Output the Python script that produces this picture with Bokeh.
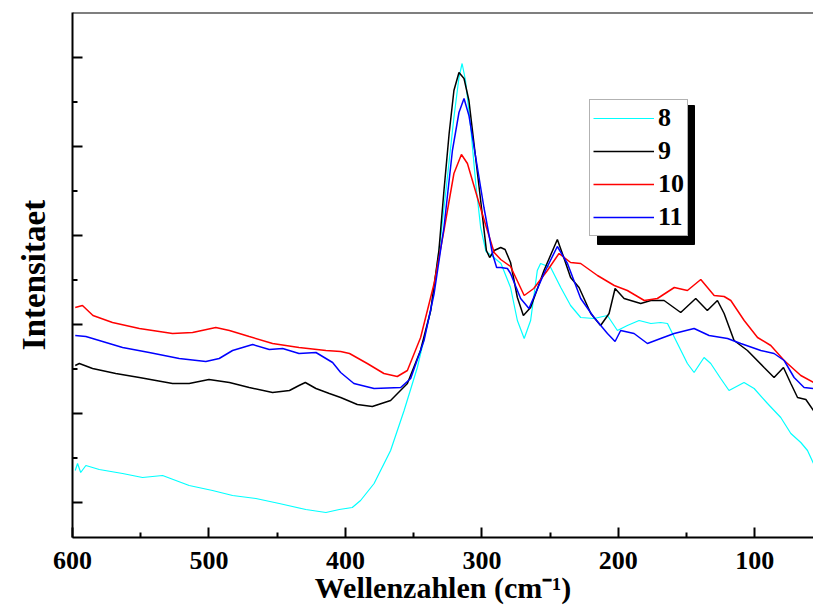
from bokeh.plotting import figure
from bokeh.models import Range1d, FixedTicker, Legend, LegendItem, Span
from bokeh.embed import file_html
from bokeh.resources import INLINE

# Raman spectra of samples 8-11: wavenumber (cm^-1) and intensity (arbitrary units)
wn_8 = [598, 596.3, 594, 590.2, 580.4, 563.3, 548.7, 534, 514.5, 497.4, 482.7, 465.6,
        448.5, 429, 414.3, 404.5, 395, 388.9, 379, 366.9, 357, 347.3, 337.5, 330.2,
        325.3, 320.5, 316.8, 314.5, 312, 308.2, 304.5, 300.9, 297, 293, 286, 279, 274,
        269, 264.3, 259.4, 257, 249.6, 242.2, 235, 227.6, 217.8, 208, 200.7, 193.4,
        184.8, 176.2, 169, 164, 156.7, 149.4, 144.5, 137.2, 132.3, 125, 118.9, 107.9,
        100.5, 90.7, 81, 73.6, 66.3, 61.4, 57]
int_8 = [67, 74, 65, 72, 68, 64, 60, 62, 52, 47, 42, 39,
         34, 28, 25, 28, 30, 37, 54, 87, 127, 170, 227, 300,
         360, 420, 460, 474, 457, 410, 354, 310, 286, 282, 274, 250, 217,
         199, 217, 267, 274, 270, 250, 232, 220, 219, 222, 207, 212,
         217, 214, 215, 214, 194, 174, 165, 180, 174, 159, 147, 155,
         149, 134, 120, 104, 95, 87, 74]

wn_9 = [598, 595, 585.3, 568.3, 551, 526.7, 514.5, 500, 485, 470.5, 453.4, 441, 434,
        429.4, 421.6, 411.8, 403.5, 391.3, 380.3, 366.9, 354.6, 345, 337.5, 331.5,
        327.8, 324, 320.5, 316.8, 313.1, 309.5, 305.8, 300.9, 296.7, 294.3, 291, 286.2,
        283, 279, 274, 269.6, 264.3, 254.5, 244.7, 240, 235, 228.8, 220.2, 213, 206.8,
        202.4, 195.8, 183.6, 176.2, 166.5, 154.3, 143.3, 134.8, 127.4, 122.5, 115.2,
        105.4, 93.2, 85.9, 79, 73.6, 68.7, 62.6, 57]
int_9 = [172, 174, 169, 164, 160, 154, 154, 158, 155, 150, 145, 147, 152,
         155, 149, 144, 140, 133, 131, 137, 154, 187, 227, 287,
         347, 404, 447, 465, 459, 437, 394, 337, 287, 280, 287, 290,
         288, 275, 240, 222, 230, 267, 298, 280, 260, 250, 224, 212, 224,
         249, 239, 234, 237, 237, 225, 239, 227, 237, 224, 197,
         187, 170, 160, 170, 154, 140, 138, 127]

wn_10 = [598, 592.7, 585, 570.7, 551, 526.7, 512, 495, 485, 470.5, 453.4, 434, 414.3,
         403.5, 397, 384, 371.8, 362, 354.6, 344.9, 335, 327.8, 320.5, 315, 310.6,
         303.3, 296, 291, 286.2, 279, 269, 262, 252, 243.5, 235, 227.6, 215.3, 203,
         193.4, 181, 171.4, 159, 149.4, 139.6, 129.8, 122.5, 117.6, 107.8, 98, 88.3,
         78.5, 66.3, 57]
int_10 = [230, 232, 222, 215, 209, 204, 205, 210, 207, 201, 194, 190, 187,
          186, 184, 174, 164, 161, 167, 200, 254, 307, 364, 383, 374,
          340, 307, 285, 278, 271, 242, 249, 267, 284, 275, 274, 262, 252,
          247, 237, 239, 250, 247, 258, 242, 241, 237, 217, 200, 192,
          177, 162, 155]

wn_11 = [598, 590.2, 580.4, 563.3, 543.8, 521.8, 502.3, 492.5, 482.7, 468, 455.8, 446,
         434, 421.6, 409.4, 403.5, 393.8, 379, 359.5, 352.2, 342.4, 335, 327.8, 321.6,
         316.8, 313.1, 309.5, 304.5, 298.5, 292.3, 289.2, 286.2, 281.3, 279, 271.6,
         265.5, 254.5, 244.7, 237.3, 227.6, 217.8, 208, 202.4, 198.3, 188.5, 178.7,
         169, 159.1, 144.5, 133.5, 120, 110.3, 95.6, 85.9, 78.5, 71.2, 63.9, 57]
int_11 = [202, 201, 197, 190, 185, 179, 176, 179, 187, 193, 188, 189,
          184, 185, 175, 165, 154, 149, 150, 159, 197, 244, 310, 387,
          425, 439, 422, 380, 330, 284, 270, 270, 269, 264, 239,
          229, 264, 291, 274, 239, 220, 204, 196, 207, 204, 194,
          199, 204, 209, 202, 199, 194, 187, 184, 177, 160, 150, 149]

series_labels = ["8", "9", "10", "11"]
series_colors = ["#00ffff", "#000000", "#ff0000", "#0000ff"]

x_major = [600, 500, 400, 300, 200, 100]
x_minor = [550, 450, 350, 250, 150]
y_major = [35, 124, 213, 302, 391, 480]
y_minor = [79.5, 168.5, 257.5, 346.5, 435.5]

x_title = "Wellenzahlen (cm\u207b\u00b9)"
y_title = "Intensitaet"

# canvas / frame geometry (pixels)
W, H = 813, 607
LEFT, TOP, BOTTOM = 72, 12, 70
X_START, X_END = 600, 57
Y_START, Y_END = 0, 525

SERIF = "Liberation Serif"

p = figure(width=W, height=H,
           x_range=Range1d(X_START, X_END), y_range=Range1d(Y_START, Y_END),
           output_backend="svg", toolbar_location=None,
           min_border_left=LEFT, min_border_right=0,
           min_border_top=TOP, min_border_bottom=BOTTOM)
p.outline_line_color = None
p.grid.visible = False
p.background_fill_color = "white"
p.border_fill_color = "white"


def px_to_x(px):
    return X_START + (px - LEFT) * (X_END - X_START) / (W - LEFT)


def py_to_y(py):
    return Y_START + (H - BOTTOM - py) * (Y_END - Y_START) / (H - BOTTOM - TOP)


# legend box in canvas pixels and its drop shadow
LEG_L, LEG_R, LEG_T, LEG_B = 589, 686, 97, 236
SHADOW = 8
p.quad(left=[px_to_x(LEG_L + SHADOW)], right=[px_to_x(LEG_R + SHADOW)],
       top=[py_to_y(LEG_T + SHADOW)], bottom=[py_to_y(LEG_B + SHADOW)],
       fill_color="black", line_color="black")

spectra = [(wn_8, int_8), (wn_9, int_9), (wn_10, int_10), (wn_11, int_11)]
renderers = []
for (wn, inten), color in zip(spectra, series_colors):
    r = p.line(wn, inten, line_color=color,
               line_width=1.2 if color == "#00ffff" else 1.5)
    renderers.append(r)

# top frame edge
p.add_layout(Span(location=Y_END, dimension="width", line_color="black", line_width=2))

xa = p.xaxis[0]
xa.ticker = FixedTicker(ticks=x_major, minor_ticks=x_minor)
xa.major_tick_in = 10
xa.major_tick_out = 0
xa.minor_tick_in = 5
xa.minor_tick_out = 0
xa.major_label_text_font = SERIF
xa.major_label_text_font_style = "bold"
xa.major_label_text_color = "black"
xa.major_label_text_font_size = "26px"
xa.major_label_standoff = 14
xa.axis_label = x_title
xa.axis_label_text_font_size = "30px"
xa.axis_label_standoff = -1

# unlabelled intensity axis: long ticks carried by the axis itself
ya = p.yaxis[0]
ya.ticker = FixedTicker(ticks=[], minor_ticks=y_major)
ya.minor_tick_in = 10
ya.minor_tick_out = 0
ya.major_label_standoff = 0
ya.axis_label = y_title
ya.axis_label_text_font_size = "33px"
ya.axis_label_standoff = 21

for ax in (xa, ya):
    ax.axis_line_width = 2
    ax.major_tick_line_width = 2
    ax.minor_tick_line_width = 2
    ax.axis_label_text_font = SERIF
    ax.axis_label_text_font_style = "bold"
    ax.axis_label_text_color = "black"

# short half-step ticks on the intensity axis
p.segment(x0=[X_START] * len(y_minor), x1=[px_to_x(LEFT + 5)] * len(y_minor),
          y0=y_minor, y1=y_minor, line_color="black", line_width=2)

legend = Legend(
    items=[LegendItem(label=lab, renderers=[r]) for lab, r in zip(series_labels, renderers)],
    location=(LEG_L - LEFT, H - BOTTOM - LEG_B),
    margin=0, padding=3, spacing=3,
    glyph_width=61, glyph_height=28, label_height=28, label_standoff=4,
    label_text_font=SERIF, label_text_font_style="bold", label_text_font_size="26px",
    label_text_color="black",
    border_line_color="#666666", border_line_width=1.5,
    background_fill_color="white", background_fill_alpha=1.0,
)
p.add_layout(legend)

open("out.html", "w").write(file_html(p, INLINE))
